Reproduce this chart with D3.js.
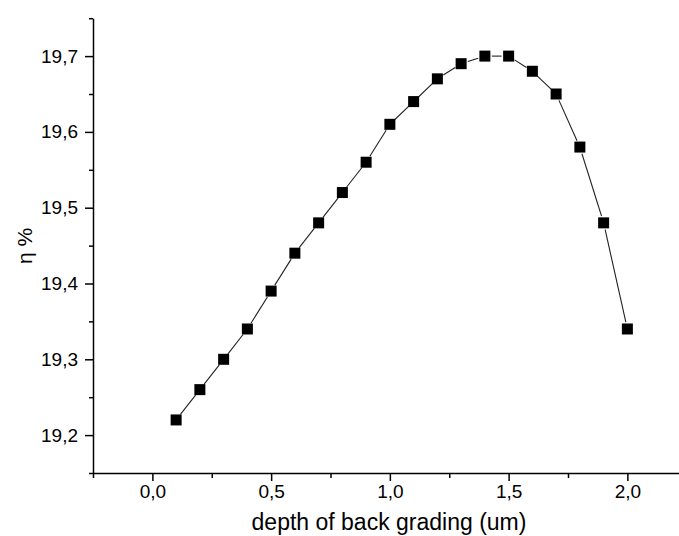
<!DOCTYPE html>
<html>
<head>
<meta charset="utf-8">
<script src="https://cdn.jsdelivr.net/npm/d3@7"></script>
<style>
  body { margin: 0; background: #fff; }
  svg { display: block; font-family: "Liberation Sans", Arial, sans-serif; }
</style>
</head>
<body>
<svg width="679" height="536"></svg>
<script>
const depth = [0.1, 0.2, 0.3, 0.4, 0.5, 0.6, 0.7, 0.8, 0.9, 1.0,
               1.1, 1.2, 1.3, 1.4, 1.5, 1.6, 1.7, 1.8, 1.9, 2.0];
const eta = [19.22, 19.26, 19.30, 19.34, 19.39, 19.44, 19.48, 19.52, 19.56, 19.61,
             19.64, 19.67, 19.69, 19.70, 19.70, 19.68, 19.65, 19.58, 19.48, 19.34];
const xMajor = [0, 0.5, 1.0, 1.5, 2.0];
const xMinor = [-0.25, 0.25, 0.75, 1.25, 1.75, 2.25];
const yMajor = [19.2, 19.3, 19.4, 19.5, 19.6, 19.7];
const yMinor = [19.15, 19.25, 19.35, 19.45, 19.55, 19.65, 19.75];

let svg = d3.select("svg");

let x = d3.scaleLinear().domain([-0.25, 2.25]).range([93, 686.75]);
let y = d3.scaleLinear().domain([19.15, 19.75]).range([473, 18.2]);

let fmt = (d) => d3.format(".1f")(d).replace(".", ",");

// bottom axis
let gx = svg.append("g").attr("transform", "translate(0,473)");
gx.call(d3.axisBottom(x).tickValues(xMajor).tickSize(8).tickSizeOuter(0).tickPadding(4).tickFormat(fmt));
let gxm = svg.append("g").attr("transform", "translate(0,473)");
gxm.call(d3.axisBottom(x).tickValues(xMinor).tickSize(5).tickSizeOuter(0).tickFormat(""));
gxm.select(".domain").remove();

// left axis
let gy = svg.append("g").attr("transform", "translate(93,0)");
gy.call(d3.axisLeft(y).tickValues(yMajor).tickSize(8).tickSizeOuter(0).tickPadding(7).tickFormat(fmt));
let gym = svg.append("g").attr("transform", "translate(93,0)");
gym.call(d3.axisLeft(y).tickValues(yMinor).tickSize(4).tickSizeOuter(0).tickFormat(""));
gym.select(".domain").remove();

svg.selectAll(".domain").attr("stroke", "#000").attr("stroke-width", 1.5);
svg.selectAll(".tick line").attr("stroke", "#000").attr("stroke-width", 1.5);
svg.selectAll(".tick text")
  .attr("font-family", "Liberation Sans, Arial, sans-serif")
  .attr("font-size", "19px")
  .attr("fill", "#000");

// axis titles
svg.append("text")
  .attr("x", 389)
  .attr("y", 530)
  .attr("text-anchor", "middle")
  .attr("font-size", "23px")
  .text("depth of back grading (um)");

svg.append("text")
  .attr("transform", "translate(32,246) rotate(-90)")
  .attr("text-anchor", "middle")
  .attr("font-size", "21px")
  .text("η %");

// connecting segments, stopped short of the markers
let gap = 7;
let lines = svg.append("g");
for (let i = 0; i < depth.length - 1; i++) {
  let x1 = x(depth[i]), y1 = y(eta[i]);
  let x2 = x(depth[i + 1]), y2 = y(eta[i + 1]);
  let len = Math.hypot(x2 - x1, y2 - y1);
  let ux = (x2 - x1) / len, uy = (y2 - y1) / len;
  lines.append("line")
    .attr("x1", x1 + ux * gap)
    .attr("y1", y1 + uy * gap)
    .attr("x2", x2 - ux * gap)
    .attr("y2", y2 - uy * gap)
    .attr("stroke", "#222")
    .attr("stroke-width", 1.1);
}

// square markers
let size = 11;
svg.append("g")
  .selectAll("rect")
  .data(depth)
  .join("rect")
  .attr("x", (d) => x(d) - size / 2)
  .attr("y", (d, i) => y(eta[i]) - size / 2)
  .attr("width", size)
  .attr("height", size)
  .attr("fill", "#000");
</script>
</body>
</html>
